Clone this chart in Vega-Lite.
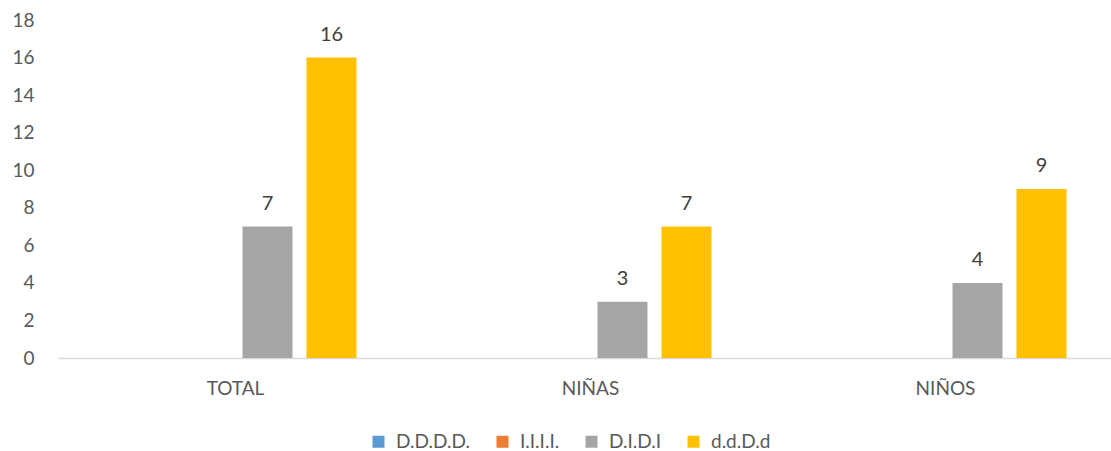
{
  "$schema": "https://vega.github.io/schema/vega-lite/v6.json",
  "autosize": {"type": "none"},
  "width": 1053,
  "height": 338,
  "padding": {"left": 58, "top": 20, "right": 0, "bottom": 93},
  "background": "white",
  "config": {
    "view": {"stroke": null},
    "font": "Lato",
    "axis": {"labelFont": "Lato", "labelColor": "#595959", "labelFontSize": 19, "grid": false, "ticks": false, "title": null},
    "legend": {"labelFont": "Lato", "labelFontSize": 19, "labelColor": "#595959"}
  },
  "data": {
    "values": [
      {"grupo": "TOTAL", "serie": "D.D.D.D.", "valor": 0},
      {"grupo": "TOTAL", "serie": "I.I.I.I.", "valor": 0},
      {"grupo": "TOTAL", "serie": "D.I.D.I", "valor": 7},
      {"grupo": "TOTAL", "serie": "d.d.D.d", "valor": 16},
      {"grupo": "NIÑAS", "serie": "D.D.D.D.", "valor": 0},
      {"grupo": "NIÑAS", "serie": "I.I.I.I.", "valor": 0},
      {"grupo": "NIÑAS", "serie": "D.I.D.I", "valor": 3},
      {"grupo": "NIÑAS", "serie": "d.d.D.d", "valor": 7},
      {"grupo": "NIÑOS", "serie": "D.D.D.D.", "valor": 0},
      {"grupo": "NIÑOS", "serie": "I.I.I.I.", "valor": 0},
      {"grupo": "NIÑOS", "serie": "D.I.D.I", "valor": 4},
      {"grupo": "NIÑOS", "serie": "d.d.D.d", "valor": 9}
    ]
  },
  "encoding": {
    "x": {
      "field": "grupo", "type": "nominal", "sort": ["TOTAL", "NIÑAS", "NIÑOS"],
      "scale": {"range": [0, 1065], "paddingInner": 0, "paddingOuter": 0},
      "axis": {"labelAngle": 0, "labelPadding": 21, "domainColor": "#D9D9D9", "domainWidth": 1.5}
    },
    "xOffset": {
      "field": "serie", "type": "nominal", "sort": ["D.D.D.D.", "I.I.I.I.", "D.I.D.I", "d.d.D.d"],
      "scale": {"paddingInner": 0.219, "paddingOuter": 0.883}
    },
    "y": {
      "field": "valor", "type": "quantitative",
      "scale": {"domain": [0, 18], "nice": false},
      "axis": {"values": [0, 2, 4, 6, 8, 10, 12, 14, 16, 18], "domain": false, "labelPadding": 24}
    }
  },
  "layer": [
    {
      "mark": {"type": "bar"},
      "encoding": {
        "color": {
          "field": "serie", "type": "nominal", "sort": ["D.D.D.D.", "I.I.I.I.", "D.I.D.I", "d.d.D.d"],
          "scale": {"domain": ["D.D.D.D.", "I.I.I.I.", "D.I.D.I", "d.d.D.d"], "range": ["#5B9BD5", "#ED7D31", "#A5A5A5", "#FFC000"]},
          "legend": {
            "title": null, "orient": "none", "direction": "horizontal",
            "legendX": 311, "legendY": 412,
            "symbolType": "square", "symbolSize": 144, "symbolStrokeWidth": 0,
            "labelOffset": 8, "columnPadding": 22
          }
        }
      }
    },
    {
      "transform": [{"filter": "datum.valor > 0"}],
      "mark": {"type": "text", "baseline": "bottom", "dy": -13, "fontSize": 20, "color": "#404040", "font": "Lato"},
      "encoding": {"text": {"field": "valor", "type": "quantitative"}}
    }
  ]
}
